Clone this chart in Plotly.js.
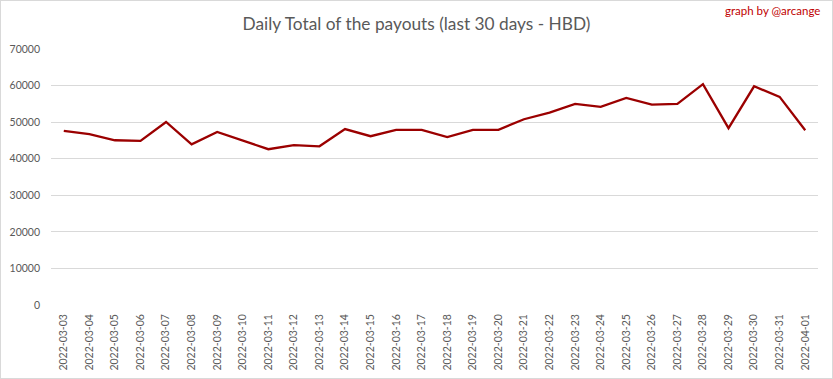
<!DOCTYPE html>
<html><head><meta charset="utf-8">
<script src="https://cdn.plot.ly/plotly-3.0.1.min.js"></script>
<style>html,body{margin:0;padding:0;background:#fff}#chart{width:833px;height:379px;box-sizing:border-box;border:1px solid #d9d9d9}</style>
</head><body><div id="chart"></div>
<script>
const dates = ["2022-03-03","2022-03-04","2022-03-05","2022-03-06","2022-03-07","2022-03-08","2022-03-09","2022-03-10","2022-03-11","2022-03-12","2022-03-13","2022-03-14","2022-03-15","2022-03-16","2022-03-17","2022-03-18","2022-03-19","2022-03-20","2022-03-21","2022-03-22","2022-03-23","2022-03-24","2022-03-25","2022-03-26","2022-03-27","2022-03-28","2022-03-29","2022-03-30","2022-03-31","2022-04-01"];
const payouts = [47600,46700,45050,44860,50050,43950,47300,45000,42600,43700,43400,48100,46150,47900,47900,45900,47900,47900,50800,52600,55000,54200,56600,54800,55000,60400,48350,59800,56900,47800];
const yTicks = [0,10000,20000,30000,40000,50000,60000,70000];

const font = "Lato, 'Open Sans', sans-serif";
Plotly.newPlot('chart', [{
  x: dates, y: payouts, type: 'scatter', mode: 'lines',
  line: {color: '#9b0000', width: 2.3}
}], {
  width: 831, height: 377,
  margin: {l: 50, r: 14, t: 48, b: 73},
  paper_bgcolor: '#fff', plot_bgcolor: '#fff',
  showlegend: false,
  font: {family: font, color: '#595959', size: 10},
  title: {text: 'Daily Total of the payouts (last 30 days - HBD)', x: 0.5, xanchor: 'center', y: 0.94, yanchor: 'middle', font: {family: font, size: 17.3, color: '#595959'}},
  xaxis: {type: 'category', tickangle: -90, showgrid: false, showline: false, zeroline: false, ticks: '', ticklabelstandoff: 6, range: [-0.5, 29.5], tickfont: {size: 10.5, color: '#595959'}},
  yaxis: {range: [0, 70000], tickvals: yTicks, ticktext: yTicks.map(String), gridcolor: '#d9d9d9', gridwidth: 1, zeroline: false, showline: false, ticks: '', ticklabelstandoff: 10, tickfont: {size: 10.5, color: '#595959'}},
  annotations: [{text: 'graph by @arcange', xref: 'paper', yref: 'paper', x: 1.005, y: 1.15, xanchor: 'right', yanchor: 'middle', showarrow: false, font: {family: font, size: 11.5, color: '#c00000'}}]
}, {displayModeBar: false, staticPlot: true});
</script></body></html>
